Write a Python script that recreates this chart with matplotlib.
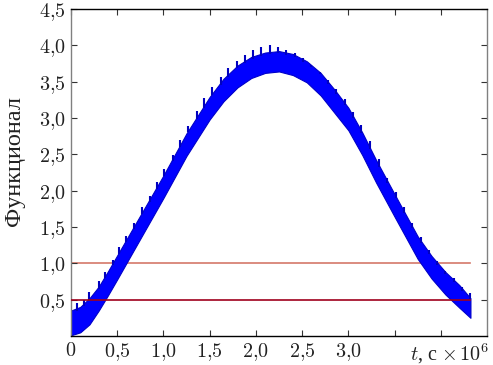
import matplotlib
matplotlib.use('Agg')
import matplotlib.pyplot as plt
from matplotlib import transforms
import numpy as np

plt.rcParams['mathtext.fontset'] = 'cm'
plt.rcParams['font.family'] = ['Liberation Serif', 'DejaVu Serif']

# ---- data ----
t = [0.00, 0.10, 0.20, 0.30, 0.40, 0.50, 0.75, 1.00, 1.25, 1.50, 1.65, 1.80, 1.95,
     2.10, 2.25, 2.40, 2.55, 2.70, 2.85, 3.00, 3.15, 3.30, 3.50, 3.75, 3.90, 4.05,
     4.20, 4.32]
lower = [0.01, 0.05, 0.16, 0.35, 0.56, 0.78, 1.34, 1.90, 2.48, 2.98, 3.23, 3.42, 3.55,
         3.62, 3.64, 3.59, 3.49, 3.31, 3.07, 2.83, 2.49, 2.11, 1.64, 1.06, 0.79, 0.57,
         0.39, 0.25]
upper = [0.35, 0.40, 0.52, 0.68, 0.89, 1.11, 1.66, 2.21, 2.79, 3.29, 3.54, 3.72, 3.84,
         3.90, 3.92, 3.88, 3.78, 3.62, 3.39, 3.14, 2.80, 2.42, 1.95, 1.37, 1.10, 0.88,
         0.70, 0.52]

spike_t = [0.06, 0.14, 0.20, 0.30, 0.37, 0.45, 0.52, 0.60, 0.68, 0.77, 0.85, 0.93, 1.01,
           1.10, 1.18, 1.27, 1.36, 1.44, 1.53, 1.62, 1.70, 1.80, 1.88, 1.97, 2.06,
           2.15, 2.24, 2.33, 2.42, 2.51, 2.60, 2.69, 2.78, 2.87, 2.96, 3.05, 3.14,
           3.23, 3.33, 3.42, 3.51, 3.60, 3.69, 3.78, 3.87, 3.96, 4.05, 4.14, 4.23, 4.31]
spike_top = [0.45, 0.50, 0.60, 0.76, 0.88, 1.05, 1.22, 1.37, 1.55, 1.77, 1.92, 2.12, 2.30,
             2.49, 2.69, 2.89, 3.09, 3.27, 3.42, 3.57, 3.69, 3.79, 3.86, 3.93, 3.98,
             4.01, 3.97, 3.94, 3.90, 3.83, 3.73, 3.63, 3.52, 3.40, 3.26, 3.08, 2.90,
             2.68, 2.43, 2.18, 1.98, 1.78, 1.56, 1.36, 1.18, 1.03, 0.90, 0.80, 0.68, 0.59]

levels = [1.0, 0.5]
level_colors = ['#d4786a', '#a0001c']
level_span = [0.0, 4.32]

xticks = [0, 0.5, 1.0, 1.5, 2.0, 2.5, 3.0, 3.5, 4.0]
xticklabels = ['$0$', '$0{,}5$', '$1{,}0$', '$1{,}5$', '$2{,}0$', '$2{,}5$', '$3{,}0$', '', '']
yticks = [0.5, 1.0, 1.5, 2.0, 2.5, 3.0, 3.5, 4.0, 4.5]
yticklabels = ['$0{,}5$', '$1{,}0$', '$1{,}5$', '$2{,}0$', '$2{,}5$', '$3{,}0$',
               '$3{,}5$', '$4{,}0$', '$4{,}5$']

# ---- figure ----
fig = plt.figure(figsize=(4.93, 3.65), dpi=100)
ax = fig.add_axes([0.144, 0.0795, 0.844, 0.896])

ax.plot(level_span, [levels[0]] * 2, color=level_colors[0], lw=1.2, zorder=1)
ax.fill_between(t, lower, upper, facecolor='#0000ff', edgecolor='#0000c8', lw=0.8, zorder=2)
base = np.interp(spike_t, t, upper) - 0.03
ax.vlines(spike_t, base, spike_top, color='#0000c0', lw=1.5, zorder=2)
ax.plot(level_span, [levels[1]] * 2, color=level_colors[1], lw=1.2, zorder=3)

ax.set_xlim(0, 4.5)
ax.set_ylim(0, 4.5)
ax.set_xticks(xticks)
ax.set_xticklabels(xticklabels)
ax.set_yticks(yticks)
ax.set_yticklabels(yticklabels)
ax.tick_params(direction='in', length=4, width=0.8, top=True, right=True,
               labelsize=14.5, pad=4, colors='#333333', labelcolor='#222222')

for side in ['left', 'right']:
    ax.spines[side].set_color('#808080')
for side in ['top', 'bottom']:
    ax.spines[side].set_color('#000000')
for s in ax.spines.values():
    s.set_linewidth(1.0)

trans = transforms.blended_transform_factory(ax.transData, ax.transAxes)
ax.annotate('$t$, с $\\times\\,10^6$', xy=(4.1, 0), xycoords=trans,
            xytext=(0, -4), textcoords='offset points', ha='center', va='top',
            fontsize=14.5, color='#222222')

fig.text(0.029, 0.56, 'Функционал', rotation=90, ha='center', va='center',
         fontsize=17.5, color='#222222')

fig.savefig('out.png', dpi=100)
